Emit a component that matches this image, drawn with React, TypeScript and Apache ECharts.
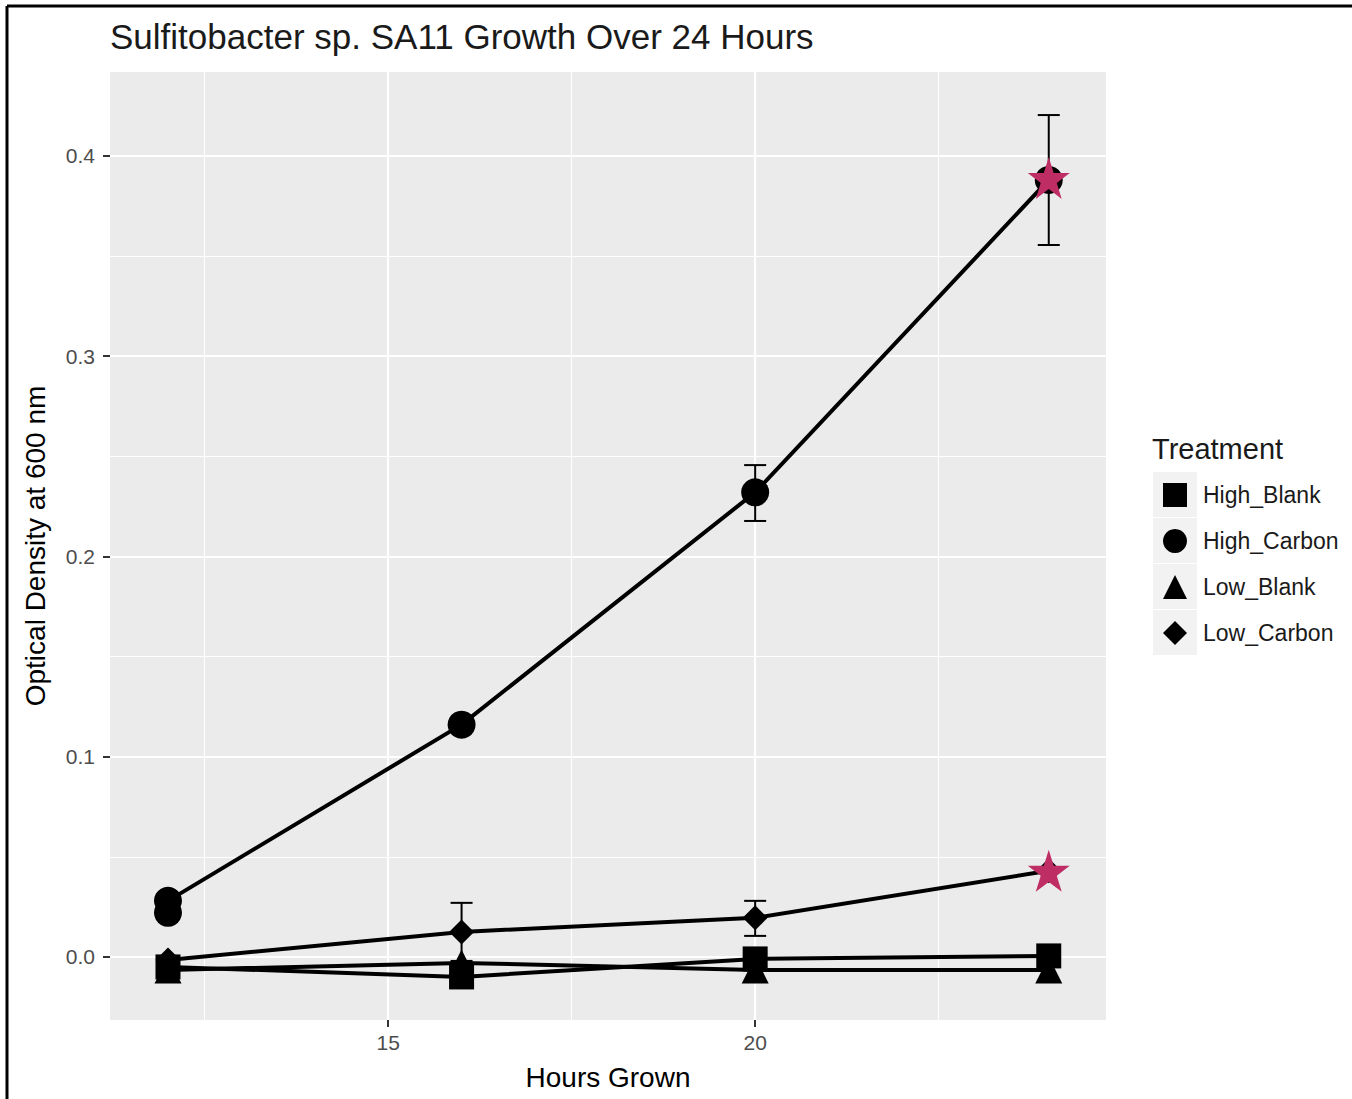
import React, { useEffect, useRef } from "react";
import * as echarts from "echarts";

const hours = [12, 16, 20, 24];
const highBlank = [-0.005, -0.01, -0.001, 0.0005];
const highCarbon = [0.028, 0.116, 0.232, 0.388];
const highCarbonExtra = [[12, 0.022]];
const lowBlank = [-0.0065, -0.003, -0.0065, -0.0065];
const lowCarbon = [-0.0015, 0.0125, 0.0195, 0.043];

// [hour, low, high]
const errorBars = [
  [20, 0.2177, 0.2456],
  [24, 0.3555, 0.4204],
  [16, -0.002, 0.027],
  [20, 0.0105, 0.028],
];

const starPoints = [
  [24, 0.389],
  [24, 0.043],
];

const xMajor = [15, 20];
const xMinor = [12.5, 17.5, 22.5];
const yMajor = [0, 0.1, 0.2, 0.3, 0.4];
const yMinor = [0.05, 0.15, 0.25, 0.35];

const legendNames = ["High_Blank", "High_Carbon", "Low_Blank", "Low_Carbon"];
const legendIcons = ["rect", "circle", "triangle", "diamond"];

const STAR =
  "path://M50,0 L61.2,34.5 L97.6,34.5 L68.2,55.9 L79.4,90.5 L50,69.1 L20.6,90.5 L31.8,55.9 L2.4,34.5 L38.8,34.5 Z";

const FONT = "Liberation Sans, Arial, Helvetica, sans-serif";

export default function App() {
  const ref = useRef<HTMLDivElement>(null);

  useEffect(() => {
    if (!ref.current) return;
    const chart = echarts.init(ref.current, null, { renderer: "svg" });

    const pair = (ys: number[]) => hours.map((h, i) => [h, ys[i]]);

    const lineSeries = (name: string, ys: number[], symbol: string, size: number) => ({
      name,
      type: "line",
      data: pair(ys),
      symbol,
      symbolSize: size,
      showAllSymbol: true,
      z: 3,
      lineStyle: { color: "#000", width: 4 },
      itemStyle: { color: "#000", opacity: 1 },
    });

    const xBase = {
      type: "value",
      min: 11.21,
      max: 24.78,
      gridIndex: 0,
    };
    const yBase = {
      type: "value",
      min: -0.0315,
      max: 0.4419,
      gridIndex: 0,
    };

    chart.setOption({
      animation: false,
      backgroundColor: "#fff",
      textStyle: { fontFamily: FONT },
      title: {
        text: "Sulfitobacter sp. SA11 Growth Over 24 Hours",
        left: 105,
        top: 14,
        textStyle: { fontFamily: FONT, fontSize: 35, fontWeight: "normal", color: "#1a1a1a" },
      },
      grid: {
        left: 110,
        top: 72,
        right: 246,
        bottom: 79,
        show: true,
        backgroundColor: "#EBEBEB",
        borderWidth: 0,
        containLabel: false,
        outerBoundsMode: "none",
      },
      legend: {
        orient: "vertical",
        left: 1158,
        top: 478,
        itemWidth: 24,
        itemHeight: 24,
        itemGap: 22,
        data: legendNames.map((n, i) => ({ name: n, icon: legendIcons[i] })),
        textStyle: { fontFamily: FONT, fontSize: 23, color: "#1a1a1a", padding: [0, 0, 0, 11] },
        itemStyle: { color: "#000" },
      },
      xAxis: [
        {
          ...xBase,
          name: "Hours Grown",
          nameLocation: "middle",
          nameGap: 43,
          nameTextStyle: { fontFamily: FONT, fontSize: 28, color: "#000" },
          axisLine: { show: false, onZero: false },
          axisTick: { show: true, customValues: xMajor, length: 7, lineStyle: { color: "#333", width: 2 } },
          axisLabel: {
            customValues: xMajor,
            margin: 12,
            fontFamily: FONT,
            fontSize: 21,
            color: "#4D4D4D",
          },
          splitLine: { show: true, lineStyle: { color: "#fff", width: 2.2 } },
        },
        {
          ...xBase,
          axisLine: { show: false, onZero: false },
          axisTick: { show: false, customValues: xMinor },
          axisLabel: { show: false, customValues: xMinor },
          splitLine: { show: true, lineStyle: { color: "#fff", width: 1.1 } },
        },
      ],
      yAxis: [
        {
          ...yBase,
          name: "Optical Density at 600 nm",
          nameLocation: "middle",
          nameGap: 61,
          nameRotate: 90,
          nameTextStyle: { fontFamily: FONT, fontSize: 28, color: "#000" },
          axisLine: { show: false, onZero: false },
          axisTick: { show: true, customValues: yMajor, length: 7, lineStyle: { color: "#333", width: 2 } },
          axisLabel: {
            customValues: yMajor,
            margin: 15,
            fontFamily: FONT,
            fontSize: 21,
            color: "#4D4D4D",
            formatter: (v: number) => v.toFixed(1),
          },
          splitLine: { show: true, lineStyle: { color: "#fff", width: 2.2 } },
        },
        {
          ...yBase,
          axisLine: { show: false, onZero: false },
          axisTick: { show: false, customValues: yMinor },
          axisLabel: { show: false, customValues: yMinor },
          splitLine: { show: true, lineStyle: { color: "#fff", width: 1.1 } },
        },
      ],
      graphic: [
        {
          type: "line",
          shape: { x1: 7, y1: 6, x2: 7, y2: 1099 },
          style: { stroke: "#000", lineWidth: 3 },
          silent: true,
        },
        {
          type: "line",
          shape: { x1: 7, y1: 6, x2: 1352, y2: 6 },
          style: { stroke: "#000", lineWidth: 3 },
          silent: true,
        },
        {
          type: "text",
          left: 1152,
          top: 434,
          style: { text: "Treatment", fontFamily: FONT, fontSize: 29, fill: "#1a1a1a" },
        },
        ...legendNames.map((_, i) => ({
          type: "rect",
          shape: { x: 1153, y: 472 + i * 46, width: 44, height: 45 },
          style: { fill: "#F2F2F2" },
          z: -1,
          silent: true,
        })),
      ],
      series: [
        {
          type: "custom",
          name: "errorbars",
          xAxisIndex: 0,
          yAxisIndex: 0,
          z: 2,
          data: errorBars,
          renderItem: (params: any, api: any) => {
            const x = api.value(0);
            const lo = api.value(1);
            const hi = api.value(2);
            const pLo = api.coord([x, lo]);
            const pHi = api.coord([x, hi]);
            const half = api.coord([x + 0.15, lo])[0] - pLo[0];
            const style = { stroke: "#000", lineWidth: 2 };
            return {
              type: "group",
              children: [
                { type: "line", shape: { x1: pLo[0], y1: pLo[1], x2: pHi[0], y2: pHi[1] }, style },
                { type: "line", shape: { x1: pHi[0] - half, y1: pHi[1], x2: pHi[0] + half, y2: pHi[1] }, style },
                { type: "line", shape: { x1: pLo[0] - half, y1: pLo[1], x2: pLo[0] + half, y2: pLo[1] }, style },
              ],
            };
          },
        },
        lineSeries("High_Blank", highBlank, "rect", 25),
        lineSeries("High_Carbon", highCarbon, "circle", 28),
        lineSeries("Low_Blank", lowBlank, "triangle", 27),
        lineSeries("Low_Carbon", lowCarbon, "diamond", 25),
        {
          name: "High_Carbon",
          type: "scatter",
          data: highCarbonExtra,
          symbol: "circle",
          symbolSize: 28,
          z: 3,
          itemStyle: { color: "#000", opacity: 1 },
        },
        {
          name: "stars",
          type: "scatter",
          data: starPoints,
          symbol: STAR,
          symbolSize: 42,
          z: 5,
          itemStyle: { color: "#BE2E64", opacity: 1 },
        },
      ],
    });

    return () => chart.dispose();
  }, []);

  return (
    <div
      ref={ref}
      style={{ position: "absolute", left: 0, top: 0, width: 1352, height: 1099 }}
    />
  );
}
